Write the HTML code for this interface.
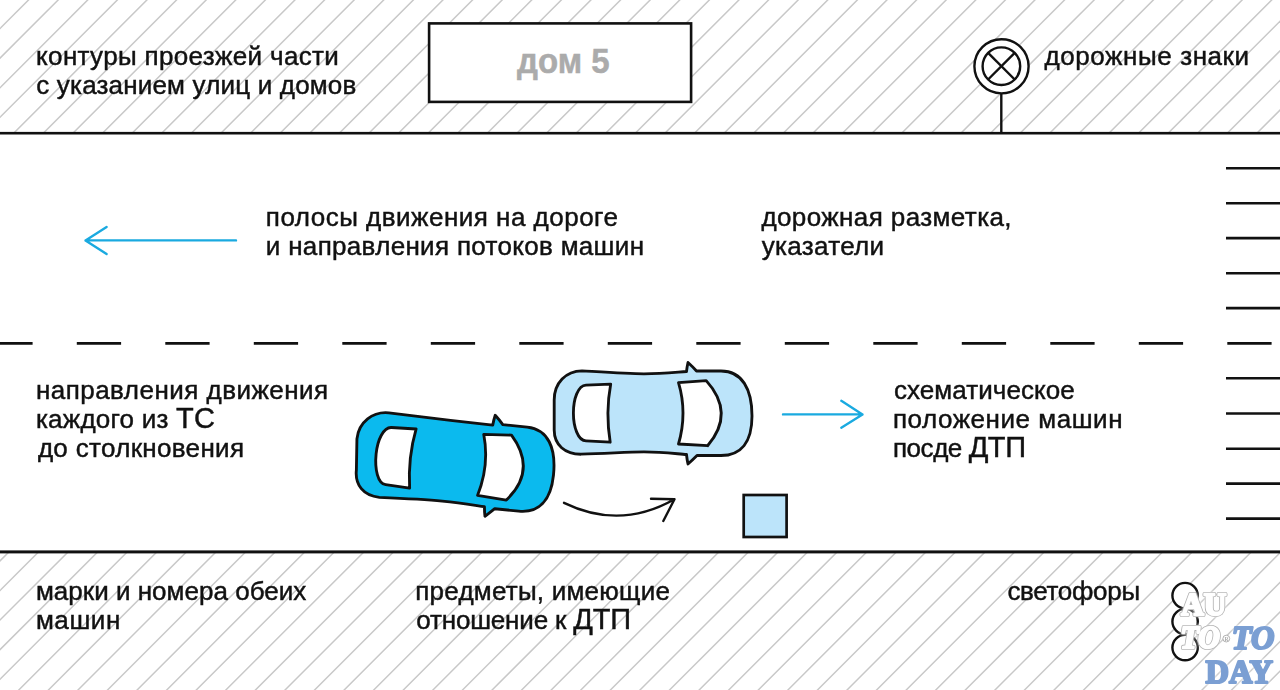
<!DOCTYPE html>
<html><head><meta charset="utf-8"><style>
html,body{margin:0;padding:0;background:#fff;width:1280px;height:690px;overflow:hidden}
svg{position:absolute;left:0;top:0;display:block}
</style></head><body>
<svg width="1280" height="690" viewBox="0 0 1280 690">
<defs>
<filter id="blur2" x="-20%" y="-20%" width="140%" height="140%"><feGaussianBlur stdDeviation="1.5"/></filter>
<filter id="blur1" x="-5%" y="-5%" width="110%" height="110%"><feGaussianBlur stdDeviation="0.5"/></filter>
<clipPath id="cTop"><rect x="0" y="0" width="1280" height="132"/></clipPath>
<clipPath id="cBot"><rect x="0" y="552" width="1280" height="138"/></clipPath>
</defs>

<g stroke="#c8c8c8" stroke-width="1.5" fill="none" filter="url(#blur1)">
  <g clip-path="url(#cTop)"><line x1="30.50" y1="-2" x2="-105.50" y2="134"/><line x1="60.10" y1="-2" x2="-75.90" y2="134"/><line x1="89.70" y1="-2" x2="-46.30" y2="134"/><line x1="119.30" y1="-2" x2="-16.70" y2="134"/><line x1="148.90" y1="-2" x2="12.90" y2="134"/><line x1="178.50" y1="-2" x2="42.50" y2="134"/><line x1="208.10" y1="-2" x2="72.10" y2="134"/><line x1="237.70" y1="-2" x2="101.70" y2="134"/><line x1="267.30" y1="-2" x2="131.30" y2="134"/><line x1="296.90" y1="-2" x2="160.90" y2="134"/><line x1="326.50" y1="-2" x2="190.50" y2="134"/><line x1="356.10" y1="-2" x2="220.10" y2="134"/><line x1="385.70" y1="-2" x2="249.70" y2="134"/><line x1="415.30" y1="-2" x2="279.30" y2="134"/><line x1="444.90" y1="-2" x2="308.90" y2="134"/><line x1="474.50" y1="-2" x2="338.50" y2="134"/><line x1="504.10" y1="-2" x2="368.10" y2="134"/><line x1="533.70" y1="-2" x2="397.70" y2="134"/><line x1="563.30" y1="-2" x2="427.30" y2="134"/><line x1="592.90" y1="-2" x2="456.90" y2="134"/><line x1="622.50" y1="-2" x2="486.50" y2="134"/><line x1="652.10" y1="-2" x2="516.10" y2="134"/><line x1="681.70" y1="-2" x2="545.70" y2="134"/><line x1="711.30" y1="-2" x2="575.30" y2="134"/><line x1="740.90" y1="-2" x2="604.90" y2="134"/><line x1="770.50" y1="-2" x2="634.50" y2="134"/><line x1="800.10" y1="-2" x2="664.10" y2="134"/><line x1="829.70" y1="-2" x2="693.70" y2="134"/><line x1="859.30" y1="-2" x2="723.30" y2="134"/><line x1="888.90" y1="-2" x2="752.90" y2="134"/><line x1="918.50" y1="-2" x2="782.50" y2="134"/><line x1="948.10" y1="-2" x2="812.10" y2="134"/><line x1="977.70" y1="-2" x2="841.70" y2="134"/><line x1="1007.30" y1="-2" x2="871.30" y2="134"/><line x1="1036.90" y1="-2" x2="900.90" y2="134"/><line x1="1066.50" y1="-2" x2="930.50" y2="134"/><line x1="1096.10" y1="-2" x2="960.10" y2="134"/><line x1="1125.70" y1="-2" x2="989.70" y2="134"/><line x1="1155.30" y1="-2" x2="1019.30" y2="134"/><line x1="1184.90" y1="-2" x2="1048.90" y2="134"/><line x1="1214.50" y1="-2" x2="1078.50" y2="134"/><line x1="1244.10" y1="-2" x2="1108.10" y2="134"/><line x1="1273.70" y1="-2" x2="1137.70" y2="134"/><line x1="1303.30" y1="-2" x2="1167.30" y2="134"/><line x1="1332.90" y1="-2" x2="1196.90" y2="134"/><line x1="1362.50" y1="-2" x2="1226.50" y2="134"/><line x1="1392.10" y1="-2" x2="1256.10" y2="134"/><line x1="1421.70" y1="-2" x2="1285.70" y2="134"/><line x1="1451.30" y1="-2" x2="1315.30" y2="134"/><line x1="1480.90" y1="-2" x2="1344.90" y2="134"/></g>
  <g clip-path="url(#cBot)"><line x1="-18.68" y1="550" x2="-161.68" y2="693"/><line x1="10.90" y1="550" x2="-132.10" y2="693"/><line x1="40.48" y1="550" x2="-102.52" y2="693"/><line x1="70.06" y1="550" x2="-72.94" y2="693"/><line x1="99.64" y1="550" x2="-43.36" y2="693"/><line x1="129.22" y1="550" x2="-13.78" y2="693"/><line x1="158.80" y1="550" x2="15.80" y2="693"/><line x1="188.38" y1="550" x2="45.38" y2="693"/><line x1="217.96" y1="550" x2="74.96" y2="693"/><line x1="247.54" y1="550" x2="104.54" y2="693"/><line x1="277.12" y1="550" x2="134.12" y2="693"/><line x1="306.70" y1="550" x2="163.70" y2="693"/><line x1="336.28" y1="550" x2="193.28" y2="693"/><line x1="365.86" y1="550" x2="222.86" y2="693"/><line x1="395.44" y1="550" x2="252.44" y2="693"/><line x1="425.02" y1="550" x2="282.02" y2="693"/><line x1="454.60" y1="550" x2="311.60" y2="693"/><line x1="484.18" y1="550" x2="341.18" y2="693"/><line x1="513.76" y1="550" x2="370.76" y2="693"/><line x1="543.34" y1="550" x2="400.34" y2="693"/><line x1="572.92" y1="550" x2="429.92" y2="693"/><line x1="602.50" y1="550" x2="459.50" y2="693"/><line x1="632.08" y1="550" x2="489.08" y2="693"/><line x1="661.66" y1="550" x2="518.66" y2="693"/><line x1="691.24" y1="550" x2="548.24" y2="693"/><line x1="720.82" y1="550" x2="577.82" y2="693"/><line x1="750.40" y1="550" x2="607.40" y2="693"/><line x1="779.98" y1="550" x2="636.98" y2="693"/><line x1="809.56" y1="550" x2="666.56" y2="693"/><line x1="839.14" y1="550" x2="696.14" y2="693"/><line x1="868.72" y1="550" x2="725.72" y2="693"/><line x1="898.30" y1="550" x2="755.30" y2="693"/><line x1="927.88" y1="550" x2="784.88" y2="693"/><line x1="957.46" y1="550" x2="814.46" y2="693"/><line x1="987.04" y1="550" x2="844.04" y2="693"/><line x1="1016.62" y1="550" x2="873.62" y2="693"/><line x1="1046.20" y1="550" x2="903.20" y2="693"/><line x1="1075.78" y1="550" x2="932.78" y2="693"/><line x1="1105.36" y1="550" x2="962.36" y2="693"/><line x1="1134.94" y1="550" x2="991.94" y2="693"/><line x1="1164.52" y1="550" x2="1021.52" y2="693"/><line x1="1194.10" y1="550" x2="1051.10" y2="693"/><line x1="1223.68" y1="550" x2="1080.68" y2="693"/><line x1="1253.26" y1="550" x2="1110.26" y2="693"/><line x1="1282.84" y1="550" x2="1139.84" y2="693"/><line x1="1312.42" y1="550" x2="1169.42" y2="693"/><line x1="1342.00" y1="550" x2="1199.00" y2="693"/><line x1="1371.58" y1="550" x2="1228.58" y2="693"/><line x1="1401.16" y1="550" x2="1258.16" y2="693"/><line x1="1430.74" y1="550" x2="1287.74" y2="693"/><line x1="1460.32" y1="550" x2="1317.32" y2="693"/></g>
</g>
<rect x="0" y="131.9" width="1280" height="2.6" fill="#111"/>
<rect x="0" y="550.4" width="1280" height="3" fill="#111"/>
<rect x="429.1" y="23.4" width="262" height="78.5" fill="#fff" stroke="#111" stroke-width="2.6"/>
<text x="517.1" y="73.1" font-family="Liberation Sans" font-weight="bold" font-size="35" fill="#ababab" stroke="#ababab" stroke-width="0.5" textLength="92.59" lengthAdjust="spacingAndGlyphs">дом 5</text>
<g fill="#fff" stroke="#111" stroke-width="2.4">
  <line x1="1001.3" y1="94" x2="1001.3" y2="133" />
  <circle cx="1001.5" cy="66.3" r="27.1"/>
  <circle cx="1001.4" cy="66.2" r="18.8"/>
  <line x1="988.1" y1="52.9" x2="1014.7" y2="79.5"/>
  <line x1="1014.7" y1="52.9" x2="988.1" y2="79.5"/>
</g>
<g stroke="#111" stroke-width="2.6"><line x1="1226" y1="168.3" x2="1280" y2="168.3"/><line x1="1226" y1="203.2" x2="1280" y2="203.2"/><line x1="1226" y1="238.1" x2="1280" y2="238.1"/><line x1="1226" y1="273.2" x2="1280" y2="273.2"/><line x1="1226" y1="308.1" x2="1280" y2="308.1"/><line x1="1226" y1="378.3" x2="1280" y2="378.3"/><line x1="1226" y1="413.5" x2="1280" y2="413.5"/><line x1="1226" y1="448.7" x2="1280" y2="448.7"/><line x1="1226" y1="483.6" x2="1280" y2="483.6"/><line x1="1226" y1="518.6" x2="1280" y2="518.6"/></g>
<path d="M -11.7 343.4 h 44.3 M 76.8 343.4 h 44.3 M 165.3 343.4 h 44.3 M 253.8 343.4 h 44.3 M 342.3 343.4 h 44.3 M 430.8 343.4 h 44.3 M 519.3 343.4 h 44.3 M 607.8 343.4 h 44.3 M 696.3 343.4 h 44.3 M 784.8 343.4 h 44.3 M 873.3 343.4 h 44.3 M 961.8 343.4 h 44.3 M 1050.3 343.4 h 44.3 M 1138.8 343.4 h 44.3 M 1227.3 343.4 h 44.3" stroke="#111" stroke-width="2.8" fill="none"/>
<g stroke="#1aaae0" stroke-width="2.4" fill="none" stroke-linecap="round" stroke-linejoin="round">
  <path d="M 236 240.4 H 85.5 M 106.6 227 L 85.5 240.4 L 106.6 254"/>
  <path d="M 783 414.4 H 862.5 M 841.3 400.8 L 862.5 414.4 L 841.3 427.7"/>
</g>
<g transform="translate(653.0 413.0) rotate(0)" stroke="#111" stroke-width="2.85" stroke-linejoin="round"><path d="M -71 -42.2 C -45 -40.6 -25 -39.2 -9 -39.2 C 10 -39.2 25 -41 33.5 -41.5 Q 34 -46 35 -50.5 Q 40 -46 43.5 -42 L 68 -42 C 89 -42 99 -24 99 3 C 99 29 88 42.5 68 42.5 L 44 42.5 Q 40 46.5 35 51 Q 34 46.5 33.5 41.5 C 25 41 10 38.9 -9 38.9 C -25 38.9 -45 40.5 -72 41.2 C -88 41.2 -98.8 32 -98.8 17 L -98.8 -13 C -98.8 -30 -87 -42.2 -71 -42.2 Z" fill="#bce4fa"/><path d="M -42.3 -28.9 L -67 -27.9 C -75 -27.6 -79.6 -14 -79.6 0 C -79.6 14 -75 27.8 -67 27.9 L -42.8 29.2 Q -47.6 0 -42.3 -28.9 Z" fill="#fff"/><path d="M 25.5 -30.4 L 53.2 -32.4 Q 82.6 0 54.6 32.7 L 25.5 31 Q 34.5 0 25.5 -30.4 Z" fill="#fff"/></g>
<g transform="translate(455.3 462.0) rotate(5.8)" stroke="#111" stroke-width="2.85" stroke-linejoin="round"><path d="M -71 -42.2 C -45 -41.7 -25 -41.2 -9 -41 C 10 -40.8 25 -40.6 33.5 -40.4 Q 34 -46 35 -50.5 Q 40 -46 43.5 -42 L 68 -42 C 89 -42 99 -24 99 3 C 99 29 88 42.5 68 42.5 L 44 42.5 Q 40 46.5 35 51 Q 34 46.5 33.5 41.5 C 25 41.2 10 40.2 -9 40.2 C -25 40.2 -45 41.2 -72 42.8 C -88 42.8 -97.6 33 -97.6 18 L -100.2 -13 C -100.2 -30 -87 -42.2 -71 -42.2 Z" fill="#0bbaee"/><path d="M -42.3 -28.9 L -67 -27.9 C -75 -27.6 -79.6 -14 -79.6 0 C -79.6 15 -75 29.4 -67 29.5 L -42.8 30.6 Q -47.6 0 -42.3 -28.9 Z" fill="#fff"/><path d="M 25.5 -30.4 L 53.2 -32.4 Q 82.6 0 54.6 32.7 L 25.5 31 Q 34.5 0 25.5 -30.4 Z" fill="#fff"/></g>
<path d="M 564 502.8 Q 620 530 674 499.5 M 651 498.8 L 674.5 499.3 L 663.3 521" stroke="#111" stroke-width="2.4" fill="none" stroke-linecap="round" stroke-linejoin="round"/>
<rect x="743.7" y="495" width="42.9" height="42" fill="#bce4fa" stroke="#111" stroke-width="2.7"/>
<g fill="#fff" stroke="#111" stroke-width="2.4">
  <circle cx="1185.1" cy="595.6" r="12.7"/>
  <circle cx="1185.1" cy="621.6" r="12.7"/>
  <circle cx="1185.1" cy="647.6" r="12.7"/>
</g>
<g font-family="Liberation Serif" font-weight="bold" opacity="0.55" filter="url(#blur2)"><text x="1181.16" y="614.50" font-size="30.83" textLength="45.01" lengthAdjust="spacingAndGlyphs" fill="#fff" stroke="#fff" stroke-width="5" stroke-linejoin="round">AU</text><text x="1180.58" y="648.21" font-size="30.83" font-style="italic" textLength="39.24" lengthAdjust="spacingAndGlyphs" fill="#fff" stroke="#fff" stroke-width="5" stroke-linejoin="round">TO</text><text x="1231.85" y="649.04" font-size="33.29" font-style="italic" textLength="42.66" lengthAdjust="spacingAndGlyphs" fill="#fff" stroke="#fff" stroke-width="5" stroke-linejoin="round">TO</text><text x="1205.58" y="682.74" font-size="33.29" textLength="67.48" lengthAdjust="spacingAndGlyphs" fill="#fff" stroke="#fff" stroke-width="5" stroke-linejoin="round">DAY</text></g><g font-family="Liberation Serif" font-weight="bold"><text x="1181.16" y="614.50" font-size="30.83" textLength="45.01" lengthAdjust="spacingAndGlyphs" fill="none" stroke="#b0b0b0" stroke-width="4.0" stroke-linejoin="round">AU</text><text x="1181.16" y="614.50" font-size="30.83" textLength="45.01" lengthAdjust="spacingAndGlyphs" fill="#fff" stroke="#fff" stroke-width="2.4" stroke-linejoin="round">AU</text><text x="1180.58" y="648.21" font-size="30.83" font-style="italic" textLength="39.24" lengthAdjust="spacingAndGlyphs" fill="none" stroke="#b0b0b0" stroke-width="4.0" stroke-linejoin="round">TO</text><text x="1180.58" y="648.21" font-size="30.83" font-style="italic" textLength="39.24" lengthAdjust="spacingAndGlyphs" fill="#fff" stroke="#fff" stroke-width="2.4" stroke-linejoin="round">TO</text><text x="1231.85" y="649.04" font-size="33.29" font-style="italic" textLength="42.66" lengthAdjust="spacingAndGlyphs" fill="#7b9fd3" stroke="#7b9fd3" stroke-width="2.2" stroke-linejoin="round">TO</text><text x="1205.58" y="682.74" font-size="33.29" textLength="67.48" lengthAdjust="spacingAndGlyphs" fill="#7b9fd3" stroke="#7b9fd3" stroke-width="2.2" stroke-linejoin="round">DAY</text><circle cx="1226.3" cy="638.6" r="3.4" fill="#fff" stroke="#aaa" stroke-width="0.9"/><text x="1224.4" y="640.6" font-size="5.5" fill="#aaa">R</text></g>
<g font-family="Liberation Sans" font-size="26" fill="#111" stroke="#111" stroke-width="0.45"><text transform="translate(36.10 65.00) scale(1.0 1)" x="0" y="0" textLength="302.70" lengthAdjust="spacing">контуры проезжей части</text><text transform="translate(36.30 94.00) scale(1.0 1)" x="0" y="0" textLength="320.00" lengthAdjust="spacing">с указанием улиц и домов</text><text transform="translate(1044.50 64.60) scale(1.0 1)" x="0" y="0" textLength="204.60" lengthAdjust="spacing">дорожные знаки</text><text transform="translate(265.80 225.60) scale(1.0 1)" x="0" y="0" textLength="352.20" lengthAdjust="spacing">полосы движения на дороге</text><text transform="translate(265.80 254.60) scale(1.0 1)" x="0" y="0" textLength="378.20" lengthAdjust="spacing">и направления потоков машин</text><text transform="translate(761.40 225.60) scale(1.0 1)" x="0" y="0" textLength="250.20" lengthAdjust="spacing">дорожная разметка,</text><text transform="translate(761.70 254.60) scale(1.0 1)" x="0" y="0" textLength="122.40" lengthAdjust="spacing">указатели</text><text transform="translate(35.90 398.90) scale(1.0 1)" x="0" y="0" textLength="292.30" lengthAdjust="spacing">направления движения</text><text transform="translate(35.90 427.80) scale(1.0 1)" x="0" y="0" textLength="179.10" lengthAdjust="spacing">каждого из <tspan font-size="29">ТС</tspan></text><text transform="translate(37.90 457.00) scale(1.0 1)" x="0" y="0" textLength="206.10" lengthAdjust="spacing">до столкновения</text><text transform="translate(893.90 398.90) scale(1.0 1)" x="0" y="0" textLength="180.90" lengthAdjust="spacing">схематическое</text><text transform="translate(892.90 427.90) scale(1.0 1)" x="0" y="0" textLength="229.60" lengthAdjust="spacing">положение машин</text><text transform="translate(892.90 456.80) scale(1.0 1)" x="0" y="0" textLength="133.10" lengthAdjust="spacing">посде <tspan font-size="29">ДТП</tspan></text><text transform="translate(35.90 599.60) scale(1.0 1)" x="0" y="0" textLength="270.40" lengthAdjust="spacing">марки и номера обеих</text><text transform="translate(35.90 628.60) scale(1.0 1)" x="0" y="0" textLength="84.40" lengthAdjust="spacing">машин</text><text transform="translate(415.30 599.60) scale(1.0 1)" x="0" y="0" textLength="254.60" lengthAdjust="spacing">предметы, имеющие</text><text transform="translate(416.30 628.60) scale(1.0 1)" x="0" y="0" textLength="214.70" lengthAdjust="spacing">отношение к <tspan font-size="29">ДТП</tspan></text><text transform="translate(1007.40 600.10) scale(1.0 1)" x="0" y="0" textLength="132.70" lengthAdjust="spacing">светофоры</text></g>
</svg>
</body></html>
